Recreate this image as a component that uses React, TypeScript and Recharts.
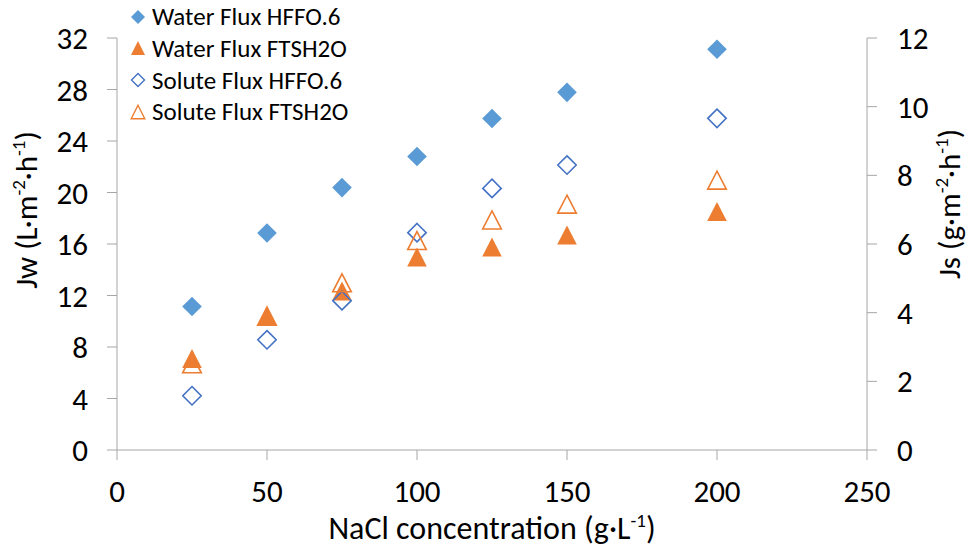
import React from 'react';
import { ScatterChart, Scatter, XAxis, YAxis, Legend, Label } from 'recharts';

const concentrations = [25, 50, 75, 100, 125, 150, 200];
const waterFluxHFFO = [11.14, 16.85, 20.38, 22.8, 25.75, 27.78, 31.13];
const waterFluxFTSH = [7.1, 10.38, 12.34, 15.0, 15.76, 16.69, 18.52];
const soluteFluxHFFO = [1.58, 3.21, 4.35, 6.33, 7.62, 8.3, 9.66];
const soluteFluxFTSH = [2.51, 3.9, 4.87, 6.1, 6.7, 7.16, 7.86];

const xTicks = [0, 50, 100, 150, 200, 250];
const jwTicks = [0, 4, 8, 12, 16, 20, 24, 28, 32];
const jsTicks = [0, 2, 4, 6, 8, 10, 12];

const seriesNames = ['Water Flux HFFO.6', 'Water Flux FTSH2O', 'Solute Flux HFFO.6', 'Solute Flux FTSH2O'];

const BLUE_FILL = '#5B9BD5';
const BLUE_LINE = '#4472C4';
const ORANGE = '#ED7D31';
const AXIS = '#A6A6A6';
const FONT = "Carlito, Calibri, 'Open Sans', sans-serif";

const toPoints = (ys: number[]) => concentrations.map((x, i) => ({ x, y: ys[i] }));

const diamondPath = (cx: number, cy: number, r: number) =>
  `M${cx},${cy - r}L${cx + r},${cy}L${cx},${cy + r}L${cx - r},${cy}Z`;
const trianglePath = (cx: number, cy: number, w: number, h: number) =>
  `M${cx},${cy - h / 2}L${cx + w / 2},${cy + h / 2}L${cx - w / 2},${cy + h / 2}Z`;

const FilledDiamond = (p: any) => <path d={diamondPath(p.cx, p.cy, 9.8)} fill={BLUE_FILL} stroke="none" />;
const OpenDiamond = (p: any) => <path d={diamondPath(p.cx, p.cy, 9.2)} fill="none" stroke={BLUE_LINE} strokeWidth={1.6} />;
const FilledTriangle = (p: any) => <path d={trianglePath(p.cx, p.cy, 19.6, 19)} fill={ORANGE} stroke="none" />;
const OpenTriangle = (p: any) => <path d={trianglePath(p.cx, p.cy, 18.6, 18)} fill="none" stroke={ORANGE} strokeWidth={1.6} />;

const legendIcons = [
  <path d={diamondPath(8, 8, 7)} fill={BLUE_FILL} />,
  <path d={trianglePath(8, 8, 14, 14)} fill={ORANGE} />,
  <path d={diamondPath(8, 8, 6.5)} fill="none" stroke={BLUE_LINE} strokeWidth={1.4} />,
  <path d={trianglePath(8, 8, 13.5, 13.5)} fill="none" stroke={ORANGE} strokeWidth={1.4} />,
];

const renderLegend = () => (
  <div style={{ fontFamily: FONT, fontSize: 25, color: '#000' }}>
    {seriesNames.map((name, i) => (
      <div key={name} style={{ display: 'flex', alignItems: 'center', height: 31.67 }}>
        <svg width={16} height={16} style={{ marginRight: 6, flex: 'none' }}>
          {legendIcons[i]}
        </svg>
        <span style={{ whiteSpace: 'nowrap' }}>{name}</span>
      </div>
    ))}
  </div>
);

const TITLE_SIZE = 31;
const SUP_SIZE = 19;
const SUP_DY = 12;

const jwTitle = () => {
  const cx = 37;
  const cy = 210;
  return (
    <text x={cx} y={cy} transform={`rotate(-90 ${cx} ${cy})`} textAnchor="middle" fontFamily={FONT} fontSize={TITLE_SIZE} fill="#000">
      Jw (L·m<tspan dy={-SUP_DY} fontSize={SUP_SIZE}>-2</tspan>
      <tspan dy={SUP_DY}>·h</tspan>
      <tspan dy={-SUP_DY} fontSize={SUP_SIZE}>-1</tspan>
      <tspan dy={SUP_DY}>)</tspan>
    </text>
  );
};

const jsTitle = () => {
  const cx = 960;
  const cy = 204;
  return (
    <text x={cx} y={cy} transform={`rotate(-90 ${cx} ${cy})`} textAnchor="middle" fontFamily={FONT} fontSize={TITLE_SIZE} fill="#000">
      Js (g·m<tspan dy={-SUP_DY} fontSize={SUP_SIZE}>-2</tspan>
      <tspan dy={SUP_DY}>·h</tspan>
      <tspan dy={-SUP_DY} fontSize={SUP_SIZE}>-1</tspan>
      <tspan dy={SUP_DY}>)</tspan>
    </text>
  );
};

const xTitle = () => {
  const cx = 492;
  const cy = 539;
  return (
    <text x={cx} y={cy} textAnchor="middle" fontFamily={FONT} fontSize={32} fill="#000">
      NaCl concentration (g·L<tspan dy={-SUP_DY} fontSize={SUP_SIZE}>-1</tspan>
      <tspan dy={SUP_DY}>)</tspan>
    </text>
  );
};

const tickStyle = { fontSize: 31, fill: '#000', fontFamily: FONT };

export default function App() {
  return (
    <div>
      <style>{`body{margin:0;background:#fff}`}</style>
      <ScatterChart width={968} height={551} margin={{ top: 38, right: 0, bottom: 0, left: 0 }}>
        <XAxis
          type="number"
          dataKey="x"
          domain={[0, 250]}
          ticks={xTicks}
          interval={0}
          height={101}
          stroke={AXIS}
          tickLine={{ stroke: AXIS }}
          tickSize={10}
          tickMargin={20}
          tick={tickStyle}
          allowDataOverflow
        >
          <Label content={xTitle} />
        </XAxis>
        <YAxis
          yAxisId="left"
          type="number"
          dataKey="y"
          domain={[0, 32]}
          ticks={jwTicks}
          interval={0}
          width={117}
          stroke={AXIS}
          tickLine={{ stroke: AXIS }}
          tickSize={10}
          tickMargin={19}
          tick={tickStyle}
          allowDataOverflow
        >
          <Label content={jwTitle} />
        </YAxis>
        <YAxis
          yAxisId="right"
          orientation="right"
          type="number"
          dataKey="y"
          domain={[0, 12]}
          ticks={jsTicks}
          interval={0}
          width={101}
          stroke={AXIS}
          tickLine={{ stroke: AXIS }}
          tickSize={10}
          tickMargin={20}
          tick={tickStyle}
          allowDataOverflow
        >
          <Label content={jsTitle} />
        </YAxis>
        <Legend
          layout="vertical"
          align="center"
          verticalAlign="middle"
          content={renderLegend}
          wrapperStyle={{ position: 'absolute', left: 130, top: 1, width: 300, height: 130 }}
        />
        <Scatter name={seriesNames[0]} data={toPoints(waterFluxHFFO)} yAxisId="left" shape={FilledDiamond} isAnimationActive={false} />
        <Scatter name={seriesNames[1]} data={toPoints(waterFluxFTSH)} yAxisId="left" shape={FilledTriangle} isAnimationActive={false} />
        <Scatter name={seriesNames[2]} data={toPoints(soluteFluxHFFO)} yAxisId="right" shape={OpenDiamond} isAnimationActive={false} />
        <Scatter name={seriesNames[3]} data={toPoints(soluteFluxFTSH)} yAxisId="right" shape={OpenTriangle} isAnimationActive={false} />
      </ScatterChart>
    </div>
  );
}
